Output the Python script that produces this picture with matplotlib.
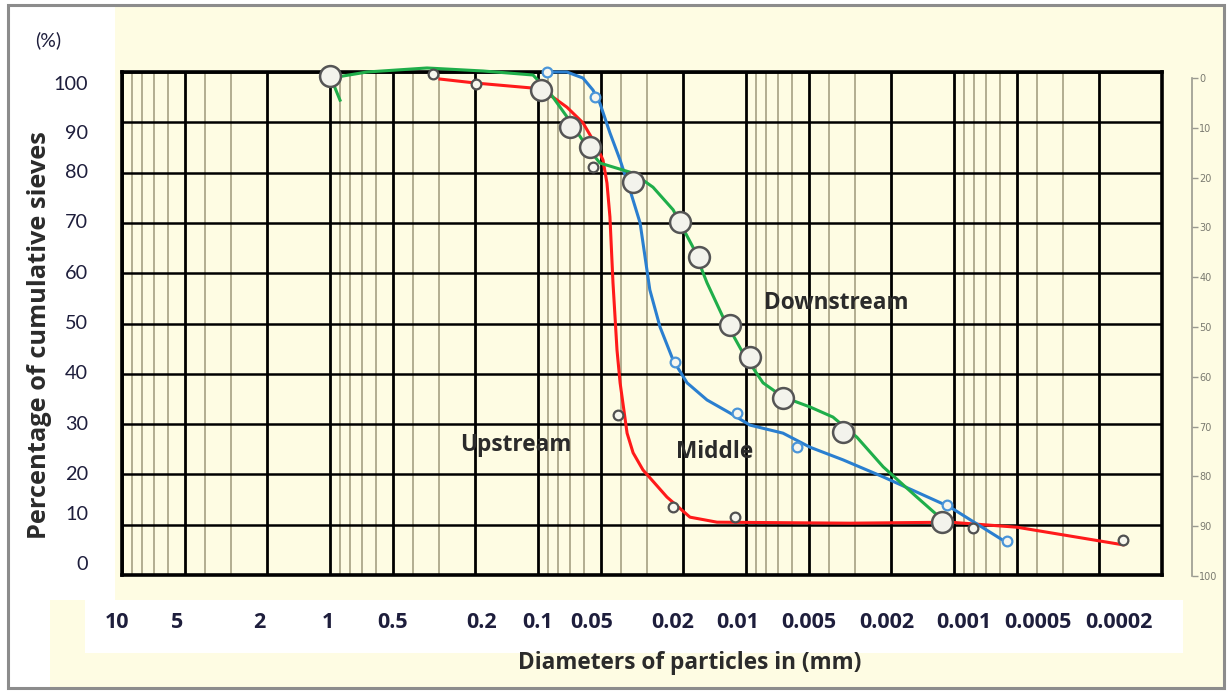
import matplotlib
matplotlib.use("Agg")
import matplotlib.pyplot as plt
import matplotlib.transforms as mtransforms
from matplotlib.patches import Rectangle

# ---------------- data ----------------
x_tick_values = [10, 5, 2, 1, 0.5, 0.2, 0.1, 0.05, 0.02, 0.01, 0.005, 0.002, 0.001, 0.0005, 0.0002]
x_tick_labels = ["10", "5", "2", "1", "0.5", "0.2", "0.1", "0.05", "0.02", "0.01", "0.005",
                 "0.002", "0.001", "0.0005", "0.0002"]
y_tick_values = [0, 10, 20, 30, 40, 50, 60, 70, 80, 90, 100]
right_tick_values = [0, 10, 20, 30, 40, 50, 60, 70, 80, 90, 100]

# Upstream (red) curve and points
up_curve_d = [0.296, 0.199, 0.1057, 0.0847, 0.0726, 0.0608, 0.052, 0.0487, 0.0466, 0.0451,
              0.0436, 0.0417, 0.0403, 0.0373, 0.0349, 0.0313, 0.0240, 0.0186, 0.01378,
              0.00316, 0.001045, 0.000498, 0.000154]
up_curve_p = [98.6, 97.8, 96.8, 95.0, 93.0, 89.9, 85.1, 82.5, 77.9, 71.2,
              58.1, 44.7, 38.2, 28.2, 24.3, 20.9, 15.5, 11.5, 10.5,
              10.3, 10.5, 9.5, 6.0]
up_mark_d = [0.320, 0.199, 0.0544, 0.0412, 0.0224, 0.0113, 0.000811, 0.000154]
up_mark_p = [99.6, 97.6, 81.1, 31.8, 13.5, 11.5, 9.3, 7.0]

# Middle (blue) curve and points
mid_curve_d = [0.0905, 0.0726, 0.0608, 0.0544, 0.0504, 0.0451, 0.0403, 0.0361, 0.0323, 0.0290,
               0.0259, 0.0224, 0.0192, 0.0154, 0.01194, 0.00957, 0.00664, 0.00492, 0.00342,
               0.00219, 0.001045, 0.000556]
mid_curve_p = [100.0, 100.0, 98.8, 96.4, 93.8, 87.9, 82.5, 76.5, 70.0, 56.7,
               49.3, 42.7, 38.2, 34.8, 32.2, 29.8, 28.2, 25.4, 22.9,
               19.5, 13.5, 6.4]
mid_mark_d = [0.0905, 0.0532, 0.0219, 0.01105, 0.00569, 0.00108, 0.000556]
mid_mark_p = [100.0, 95.0, 42.3, 32.2, 25.4, 13.9, 6.8]

# Downstream (green) curve and points
down_curve_d = [0.895, 0.989, 0.664, 0.342, 0.1837, 0.1057, 0.0875, 0.0726, 0.0581, 0.0504,
                0.0349, 0.0280, 0.0224, 0.0180, 0.0154, 0.01291, 0.01033, 0.00828, 0.00664,
                0.00492, 0.00382, 0.00293, 0.00219, 0.00151, 0.00113]
down_curve_p = [94.4, 98.8, 100.0, 100.8, 100.2, 99.4, 95.8, 91.1, 85.1, 81.9,
                79.9, 77.1, 72.6, 65.2, 58.1, 51.3, 44.1, 38.2, 35.4,
                33.4, 31.4, 27.4, 21.5, 15.5, 10.9]
down_mark_d = [1.0, 0.0968, 0.0702, 0.0562, 0.0349, 0.0208, 0.0168, 0.01194, 0.00957,
               0.00664, 0.00342, 0.001142]
down_mark_p = [99.2, 96.4, 89.1, 85.1, 78.1, 70.2, 63.2, 49.7, 43.3, 35.2, 28.4, 10.5]

series_labels = ["Upstream", "Middle", "Downstream"]
label_pos_d = [0.1276, 0.0141, 0.00369]
label_pos_p = [25.8, 24.5, 54.1]

# ---------------- figure ----------------
W, H = 1231, 691
fig = plt.figure(figsize=(W / 100, H / 100), dpi=100)
fig.patch.set_facecolor("white")
CREAM = "#FEFCE3"
BOLDFONT = "Open Sans"
TICKCOL = "#1e1e3c"


def px_rect(x0, y0, x1, y1, z=-5, **kw):
    fig.patches.append(Rectangle((x0 / W, 1 - y1 / H), (x1 - x0) / W, (y1 - y0) / H,
                                 transform=fig.transFigure, zorder=z, **kw))


px_rect(115, 5, 1224, 600, facecolor=CREAM, edgecolor="none")
px_rect(50, 600, 1224, 688, facecolor=CREAM, edgecolor="none")
px_rect(85, 600, 1183, 653, facecolor="white", edgecolor="none")
px_rect(8, 5, 1224, 688, z=10, facecolor="none", edgecolor="#8c8c8c", linewidth=2.2)

ax = fig.add_axes([122 / W, 1 - 575 / H, (1162 - 122) / W, (575 - 72) / H])
ax.set_zorder(2)
ax.set_facecolor(CREAM)
ax.set_xscale("log")
ax.set_xlim(10, 1e-4)
ax.set_ylim(0, 100)

# grid
minor_vals = []
for dec in [1, 0.1, 0.01, 0.001, 0.0001]:
    for m in [3, 4, 6, 7, 8, 9]:
        minor_vals.append(m * dec)
ax.set_xticks(minor_vals, minor=True)
ax.set_xticks(x_tick_values)
ax.set_xticklabels([])
ax.set_yticks(y_tick_values)
ax.set_yticklabels([])
ax.set_yticks([], minor=True)
ax.grid(True, which="major", axis="x", color="black", linewidth=2.0)
ax.grid(True, which="minor", axis="x", color="#ada78a", linewidth=1.3)
ax.grid(True, which="major", axis="y", color="black", linewidth=1.8)
ax.set_axisbelow(True)
for s in ax.spines.values():
    s.set_linewidth(2.6)
    s.set_color("black")
ax.tick_params(axis="both", which="both", length=0, labelbottom=False, labelleft=False)

# x tick labels (a few sit slightly off their gridline, as on the original sheet)
xlab_shift_px = {10: -5, 5: -7, 2: -8, 1: -2, 0.2: 6, 0.05: -9, 0.02: -11, 0.01: -8,
                 0.002: -5, 0.001: 10, 0.0005: 21, 0.0002: 20}
xbase = mtransforms.blended_transform_factory(ax.transData, ax.transAxes)
for v, s in zip(x_tick_values, x_tick_labels):
    tr = xbase + mtransforms.ScaledTranslation(xlab_shift_px.get(v, 0) / 100, -48 / 100,
                                                fig.dpi_scale_trans)
    ax.text(v, 0, s, transform=tr, ha="center", va="center", fontsize=15.5,
            fontweight="bold", family=BOLDFONT, color=TICKCOL, clip_on=False)

# y tick labels
ylab_shift_px = {100: -13, 90: -11, 10: 10, 0: 10}
ybase = mtransforms.blended_transform_factory(ax.transAxes, ax.transData)
for v in y_tick_values:
    tr = ybase + mtransforms.ScaledTranslation(-34 / 100, ylab_shift_px.get(v, 0) / 100,
                                                fig.dpi_scale_trans)
    ax.text(0, v, str(v), transform=tr, ha="right", va="center", fontsize=14.3,
            family="Lato", color=TICKCOL, clip_on=False)

# curves
ax.plot(up_curve_d, up_curve_p, color="#ff1a1a", lw=2.2, clip_on=False, zorder=3)
ax.plot(mid_curve_d, mid_curve_p, color="#2a7fd0", lw=2.2, clip_on=False, zorder=3)
ax.plot(down_curve_d, down_curve_p, color="#1fae4a", lw=2.2, clip_on=False, zorder=3)

# markers
ax.plot(up_mark_d, up_mark_p, ls="none", marker="o", ms=7, mfc="#f6f6ee", mec="#505050",
        mew=1.6, clip_on=False, zorder=4)
ax.plot(mid_mark_d, mid_mark_p, ls="none", marker="o", ms=7, mfc="#f6f6ee", mec="#4a95d8",
        mew=1.6, clip_on=False, zorder=4)
ax.plot(down_mark_d, down_mark_p, ls="none", marker="o", ms=15, mfc="#f3f3ec", mec="#555555",
        mew=1.8, clip_on=False, zorder=4)

for txt, d, p in zip(series_labels, label_pos_d, label_pos_p):
    ax.text(d, p, txt, ha="center", va="center", fontsize=16.3, fontweight="bold",
            family=BOLDFONT, color="#2b2b2b", zorder=5)

# right auxiliary axis
ax2 = fig.add_axes([1192 / W, 1 - 576 / H, 0.0001, (576 - 78) / H])
ax2.set_zorder(2)
ax2.set_facecolor("none")
ax2.set_ylim(100, 0)
ax2.set_xticks([])
for k in ["left", "top", "bottom"]:
    ax2.spines[k].set_visible(False)
ax2.spines["right"].set_color("#9a9a90")
ax2.spines["right"].set_linewidth(1.2)
ax2.yaxis.tick_right()
ax2.set_yticks(right_tick_values)
ax2.tick_params(axis="y", direction="out", length=4, width=1, color="#9a9a90",
                labelsize=7, labelcolor="#7a7a70", pad=1)

# titles / labels
fig.text(40 / W, 1 - 335 / H, "Percentage of cumulative sieves", rotation=90, ha="center",
         va="center", fontsize=18.3, fontweight="bold", family=BOLDFONT, color="#2b2b2b")
fig.text(690 / W, 1 - 663 / H, "Diameters of particles in (mm)", ha="center", va="center",
         fontsize=16.3, fontweight="bold", family=BOLDFONT, color="#2b2b2b")
fig.text(48 / W, 1 - 40 / H, "(%)", ha="center", va="center", fontsize=14,
         family="Lato", color=TICKCOL)

fig.savefig("out.png", dpi=100, facecolor=fig.get_facecolor())
